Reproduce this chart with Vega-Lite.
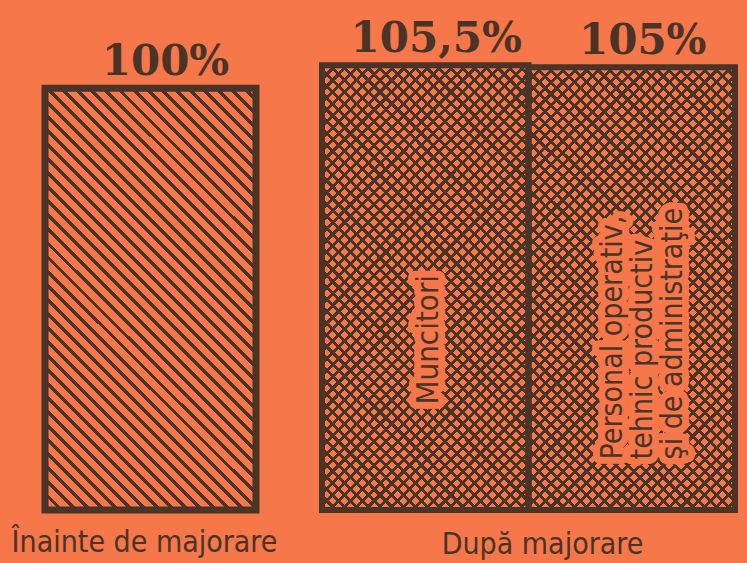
{
"$schema":"https://vega.github.io/schema/vega-lite/v6.json",
"background":"#f5774a",
"padding":{"left":11,"top":4,"right":12,"bottom":12},
"config":{"view":{"stroke":null}},
"spacing":66,
"bounds":"flush",
"data":{"values":[
{"group":"Înainte de majorare","category":"Total","name":"","value":100,"label":"100%"},
{"group":"După majorare","category":"Muncitori","name":"Muncitori","value":105.5,"label":"105,5%"},
{"group":"După majorare","category":"Personal","name":"Personal operativ,\ntehnic productiv\nşi de administraţie","value":105,"label":"105%"}
]},
"hconcat":[
{
"width":211,"height":506,
"transform":[{"filter":{"field":"group","equal":"Înainte de majorare"}}],
"title":{"text":"Înainte de majorare","orient":"bottom","anchor":"middle","font":"Liberation Sans Narrow, DejaVu Sans Condensed, sans-serif","fontSize":30,"fontWeight":"normal","color":"#4a3427","offset":14,"dx":-6},
"encoding":{
"x":{"field":"category","type":"nominal","axis":null,"scale":{"paddingInner":0,"paddingOuter":0}},
"y":{"field":"value","type":"quantitative","axis":null,"scale":{"domain":[0,120],"nice":false}}
},
"layer":[
{"mark":{"type":"bar","stroke":"#4a3427","strokeWidth":7,"fill":{"gradient":"linear","x1":0,"y1":1,"x2":0.6,"y2":-0.2,"stops":[
{"offset":0,"color":"#4a3427"},{"offset":0.0078,"color":"#4a3427"},{"offset":0.0078,"color":"#f5774a"},{"offset":0.0222,"color":"#f5774a"},
{"offset":0.0222,"color":"#4a3427"},{"offset":0.0300,"color":"#4a3427"},{"offset":0.0300,"color":"#f5774a"},{"offset":0.0444,"color":"#f5774a"},
{"offset":0.0444,"color":"#4a3427"},{"offset":0.0522,"color":"#4a3427"},{"offset":0.0522,"color":"#f5774a"},{"offset":0.0667,"color":"#f5774a"},
{"offset":0.0667,"color":"#4a3427"},{"offset":0.0745,"color":"#4a3427"},{"offset":0.0745,"color":"#f5774a"},{"offset":0.0889,"color":"#f5774a"},
{"offset":0.0889,"color":"#4a3427"},{"offset":0.0967,"color":"#4a3427"},{"offset":0.0967,"color":"#f5774a"},{"offset":0.1111,"color":"#f5774a"},
{"offset":0.1111,"color":"#4a3427"},{"offset":0.1189,"color":"#4a3427"},{"offset":0.1189,"color":"#f5774a"},{"offset":0.1333,"color":"#f5774a"},
{"offset":0.1333,"color":"#4a3427"},{"offset":0.1411,"color":"#4a3427"},{"offset":0.1411,"color":"#f5774a"},{"offset":0.1556,"color":"#f5774a"},
{"offset":0.1556,"color":"#4a3427"},{"offset":0.1634,"color":"#4a3427"},{"offset":0.1634,"color":"#f5774a"},{"offset":0.1778,"color":"#f5774a"},
{"offset":0.1778,"color":"#4a3427"},{"offset":0.1856,"color":"#4a3427"},{"offset":0.1856,"color":"#f5774a"},{"offset":0.2,"color":"#f5774a"},
{"offset":0.2,"color":"#4a3427"},{"offset":0.2078,"color":"#4a3427"},{"offset":0.2078,"color":"#f5774a"},{"offset":0.2222,"color":"#f5774a"},
{"offset":0.2222,"color":"#4a3427"},{"offset":0.2300,"color":"#4a3427"},{"offset":0.2300,"color":"#f5774a"},{"offset":0.2444,"color":"#f5774a"},
{"offset":0.2444,"color":"#4a3427"},{"offset":0.2522,"color":"#4a3427"},{"offset":0.2522,"color":"#f5774a"},{"offset":0.2667,"color":"#f5774a"},
{"offset":0.2667,"color":"#4a3427"},{"offset":0.2745,"color":"#4a3427"},{"offset":0.2745,"color":"#f5774a"},{"offset":0.2889,"color":"#f5774a"},
{"offset":0.2889,"color":"#4a3427"},{"offset":0.2967,"color":"#4a3427"},{"offset":0.2967,"color":"#f5774a"},{"offset":0.3111,"color":"#f5774a"},
{"offset":0.3111,"color":"#4a3427"},{"offset":0.3189,"color":"#4a3427"},{"offset":0.3189,"color":"#f5774a"},{"offset":0.3333,"color":"#f5774a"},
{"offset":0.3333,"color":"#4a3427"},{"offset":0.3411,"color":"#4a3427"},{"offset":0.3411,"color":"#f5774a"},{"offset":0.3556,"color":"#f5774a"},
{"offset":0.3556,"color":"#4a3427"},{"offset":0.3634,"color":"#4a3427"},{"offset":0.3634,"color":"#f5774a"},{"offset":0.3778,"color":"#f5774a"},
{"offset":0.3778,"color":"#4a3427"},{"offset":0.3856,"color":"#4a3427"},{"offset":0.3856,"color":"#f5774a"},{"offset":0.4,"color":"#f5774a"},
{"offset":0.4,"color":"#4a3427"},{"offset":0.4078,"color":"#4a3427"},{"offset":0.4078,"color":"#f5774a"},{"offset":0.4222,"color":"#f5774a"},
{"offset":0.4222,"color":"#4a3427"},{"offset":0.4300,"color":"#4a3427"},{"offset":0.4300,"color":"#f5774a"},{"offset":0.4444,"color":"#f5774a"},
{"offset":0.4444,"color":"#4a3427"},{"offset":0.4522,"color":"#4a3427"},{"offset":0.4522,"color":"#f5774a"},{"offset":0.4667,"color":"#f5774a"},
{"offset":0.4667,"color":"#4a3427"},{"offset":0.4745,"color":"#4a3427"},{"offset":0.4745,"color":"#f5774a"},{"offset":0.4889,"color":"#f5774a"},
{"offset":0.4889,"color":"#4a3427"},{"offset":0.4967,"color":"#4a3427"},{"offset":0.4967,"color":"#f5774a"},{"offset":0.5111,"color":"#f5774a"},
{"offset":0.5111,"color":"#4a3427"},{"offset":0.5189,"color":"#4a3427"},{"offset":0.5189,"color":"#f5774a"},{"offset":0.5333,"color":"#f5774a"},
{"offset":0.5333,"color":"#4a3427"},{"offset":0.5411,"color":"#4a3427"},{"offset":0.5411,"color":"#f5774a"},{"offset":0.5556,"color":"#f5774a"},
{"offset":0.5556,"color":"#4a3427"},{"offset":0.5634,"color":"#4a3427"},{"offset":0.5634,"color":"#f5774a"},{"offset":0.5778,"color":"#f5774a"},
{"offset":0.5778,"color":"#4a3427"},{"offset":0.5856,"color":"#4a3427"},{"offset":0.5856,"color":"#f5774a"},{"offset":0.6,"color":"#f5774a"},
{"offset":0.6,"color":"#4a3427"},{"offset":0.6078,"color":"#4a3427"},{"offset":0.6078,"color":"#f5774a"},{"offset":0.6222,"color":"#f5774a"},
{"offset":0.6222,"color":"#4a3427"},{"offset":0.6300,"color":"#4a3427"},{"offset":0.6300,"color":"#f5774a"},{"offset":0.6444,"color":"#f5774a"},
{"offset":0.6444,"color":"#4a3427"},{"offset":0.6522,"color":"#4a3427"},{"offset":0.6522,"color":"#f5774a"},{"offset":0.6667,"color":"#f5774a"},
{"offset":0.6667,"color":"#4a3427"},{"offset":0.6745,"color":"#4a3427"},{"offset":0.6745,"color":"#f5774a"},{"offset":0.6889,"color":"#f5774a"},
{"offset":0.6889,"color":"#4a3427"},{"offset":0.6967,"color":"#4a3427"},{"offset":0.6967,"color":"#f5774a"},{"offset":0.7111,"color":"#f5774a"},
{"offset":0.7111,"color":"#4a3427"},{"offset":0.7189,"color":"#4a3427"},{"offset":0.7189,"color":"#f5774a"},{"offset":0.7333,"color":"#f5774a"},
{"offset":0.7333,"color":"#4a3427"},{"offset":0.7411,"color":"#4a3427"},{"offset":0.7411,"color":"#f5774a"},{"offset":0.7556,"color":"#f5774a"},
{"offset":0.7556,"color":"#4a3427"},{"offset":0.7634,"color":"#4a3427"},{"offset":0.7634,"color":"#f5774a"},{"offset":0.7778,"color":"#f5774a"},
{"offset":0.7778,"color":"#4a3427"},{"offset":0.7856,"color":"#4a3427"},{"offset":0.7856,"color":"#f5774a"},{"offset":0.8,"color":"#f5774a"},
{"offset":0.8,"color":"#4a3427"},{"offset":0.8078,"color":"#4a3427"},{"offset":0.8078,"color":"#f5774a"},{"offset":0.8222,"color":"#f5774a"},
{"offset":0.8222,"color":"#4a3427"},{"offset":0.8300,"color":"#4a3427"},{"offset":0.8300,"color":"#f5774a"},{"offset":0.8444,"color":"#f5774a"},
{"offset":0.8444,"color":"#4a3427"},{"offset":0.8522,"color":"#4a3427"},{"offset":0.8522,"color":"#f5774a"},{"offset":0.8667,"color":"#f5774a"},
{"offset":0.8667,"color":"#4a3427"},{"offset":0.8745,"color":"#4a3427"},{"offset":0.8745,"color":"#f5774a"},{"offset":0.8889,"color":"#f5774a"},
{"offset":0.8889,"color":"#4a3427"},{"offset":0.8967,"color":"#4a3427"},{"offset":0.8967,"color":"#f5774a"},{"offset":0.9111,"color":"#f5774a"},
{"offset":0.9111,"color":"#4a3427"},{"offset":0.9189,"color":"#4a3427"},{"offset":0.9189,"color":"#f5774a"},{"offset":0.9333,"color":"#f5774a"},
{"offset":0.9333,"color":"#4a3427"},{"offset":0.9411,"color":"#4a3427"},{"offset":0.9411,"color":"#f5774a"},{"offset":0.9556,"color":"#f5774a"},
{"offset":0.9556,"color":"#4a3427"},{"offset":0.9634,"color":"#4a3427"},{"offset":0.9634,"color":"#f5774a"},{"offset":0.9778,"color":"#f5774a"},
{"offset":0.9778,"color":"#4a3427"},{"offset":0.9856,"color":"#4a3427"},{"offset":0.9856,"color":"#f5774a"},{"offset":1,"color":"#f5774a"}
]}}},
{"mark":{"type":"text","font":"DejaVu Serif","fontWeight":"bold","fontSize":42,"color":"#4a3427","baseline":"alphabetic","dx":15,"dy":-13},"encoding":{"text":{"field":"label"}}}
]
},
{
"width":413,"height":506,
"transform":[{"filter":{"field":"group","equal":"După majorare"}}],
"title":{"text":"După majorare","orient":"bottom","anchor":"middle","font":"Liberation Sans Narrow, DejaVu Sans Condensed, sans-serif","fontSize":30,"fontWeight":"normal","color":"#4a3427","offset":17,"dx":14},
"encoding":{
"x":{"field":"category","type":"nominal","sort":null,"axis":null,"scale":{"paddingInner":0,"paddingOuter":0}},
"y":{"field":"value","type":"quantitative","axis":null,"scale":{"domain":[0,120],"nice":false}}
},
"layer":[
{"mark":{"type":"bar","strokeWidth":0,"fill":{"gradient":"linear","x1":0,"y1":1,"x2":0.5605,"y2":-0.2045,"stops":[
{"offset":0,"color":"#4a3427"},{"offset":0.0064,"color":"#4a3427"},{"offset":0.0064,"color":"#f5774a"},{"offset":0.0182,"color":"#f5774a"},
{"offset":0.0182,"color":"#4a3427"},{"offset":0.0246,"color":"#4a3427"},{"offset":0.0246,"color":"#f5774a"},{"offset":0.0364,"color":"#f5774a"},
{"offset":0.0364,"color":"#4a3427"},{"offset":0.0428,"color":"#4a3427"},{"offset":0.0428,"color":"#f5774a"},{"offset":0.0545,"color":"#f5774a"},
{"offset":0.0545,"color":"#4a3427"},{"offset":0.0609,"color":"#4a3427"},{"offset":0.0609,"color":"#f5774a"},{"offset":0.0727,"color":"#f5774a"},
{"offset":0.0727,"color":"#4a3427"},{"offset":0.0791,"color":"#4a3427"},{"offset":0.0791,"color":"#f5774a"},{"offset":0.0909,"color":"#f5774a"},
{"offset":0.0909,"color":"#4a3427"},{"offset":0.0973,"color":"#4a3427"},{"offset":0.0973,"color":"#f5774a"},{"offset":0.1091,"color":"#f5774a"},
{"offset":0.1091,"color":"#4a3427"},{"offset":0.1155,"color":"#4a3427"},{"offset":0.1155,"color":"#f5774a"},{"offset":0.1273,"color":"#f5774a"},
{"offset":0.1273,"color":"#4a3427"},{"offset":0.1337,"color":"#4a3427"},{"offset":0.1337,"color":"#f5774a"},{"offset":0.1455,"color":"#f5774a"},
{"offset":0.1455,"color":"#4a3427"},{"offset":0.1519,"color":"#4a3427"},{"offset":0.1519,"color":"#f5774a"},{"offset":0.1636,"color":"#f5774a"},
{"offset":0.1636,"color":"#4a3427"},{"offset":0.1700,"color":"#4a3427"},{"offset":0.1700,"color":"#f5774a"},{"offset":0.1818,"color":"#f5774a"},
{"offset":0.1818,"color":"#4a3427"},{"offset":0.1882,"color":"#4a3427"},{"offset":0.1882,"color":"#f5774a"},{"offset":0.2,"color":"#f5774a"},
{"offset":0.2,"color":"#4a3427"},{"offset":0.2064,"color":"#4a3427"},{"offset":0.2064,"color":"#f5774a"},{"offset":0.2182,"color":"#f5774a"},
{"offset":0.2182,"color":"#4a3427"},{"offset":0.2246,"color":"#4a3427"},{"offset":0.2246,"color":"#f5774a"},{"offset":0.2364,"color":"#f5774a"},
{"offset":0.2364,"color":"#4a3427"},{"offset":0.2428,"color":"#4a3427"},{"offset":0.2428,"color":"#f5774a"},{"offset":0.2545,"color":"#f5774a"},
{"offset":0.2545,"color":"#4a3427"},{"offset":0.2609,"color":"#4a3427"},{"offset":0.2609,"color":"#f5774a"},{"offset":0.2727,"color":"#f5774a"},
{"offset":0.2727,"color":"#4a3427"},{"offset":0.2791,"color":"#4a3427"},{"offset":0.2791,"color":"#f5774a"},{"offset":0.2909,"color":"#f5774a"},
{"offset":0.2909,"color":"#4a3427"},{"offset":0.2973,"color":"#4a3427"},{"offset":0.2973,"color":"#f5774a"},{"offset":0.3091,"color":"#f5774a"},
{"offset":0.3091,"color":"#4a3427"},{"offset":0.3155,"color":"#4a3427"},{"offset":0.3155,"color":"#f5774a"},{"offset":0.3273,"color":"#f5774a"},
{"offset":0.3273,"color":"#4a3427"},{"offset":0.3337,"color":"#4a3427"},{"offset":0.3337,"color":"#f5774a"},{"offset":0.3455,"color":"#f5774a"},
{"offset":0.3455,"color":"#4a3427"},{"offset":0.3519,"color":"#4a3427"},{"offset":0.3519,"color":"#f5774a"},{"offset":0.3636,"color":"#f5774a"},
{"offset":0.3636,"color":"#4a3427"},{"offset":0.3700,"color":"#4a3427"},{"offset":0.3700,"color":"#f5774a"},{"offset":0.3818,"color":"#f5774a"},
{"offset":0.3818,"color":"#4a3427"},{"offset":0.3882,"color":"#4a3427"},{"offset":0.3882,"color":"#f5774a"},{"offset":0.4,"color":"#f5774a"},
{"offset":0.4,"color":"#4a3427"},{"offset":0.4064,"color":"#4a3427"},{"offset":0.4064,"color":"#f5774a"},{"offset":0.4182,"color":"#f5774a"},
{"offset":0.4182,"color":"#4a3427"},{"offset":0.4246,"color":"#4a3427"},{"offset":0.4246,"color":"#f5774a"},{"offset":0.4364,"color":"#f5774a"},
{"offset":0.4364,"color":"#4a3427"},{"offset":0.4428,"color":"#4a3427"},{"offset":0.4428,"color":"#f5774a"},{"offset":0.4545,"color":"#f5774a"},
{"offset":0.4545,"color":"#4a3427"},{"offset":0.4609,"color":"#4a3427"},{"offset":0.4609,"color":"#f5774a"},{"offset":0.4727,"color":"#f5774a"},
{"offset":0.4727,"color":"#4a3427"},{"offset":0.4791,"color":"#4a3427"},{"offset":0.4791,"color":"#f5774a"},{"offset":0.4909,"color":"#f5774a"},
{"offset":0.4909,"color":"#4a3427"},{"offset":0.4973,"color":"#4a3427"},{"offset":0.4973,"color":"#f5774a"},{"offset":0.5091,"color":"#f5774a"},
{"offset":0.5091,"color":"#4a3427"},{"offset":0.5155,"color":"#4a3427"},{"offset":0.5155,"color":"#f5774a"},{"offset":0.5273,"color":"#f5774a"},
{"offset":0.5273,"color":"#4a3427"},{"offset":0.5337,"color":"#4a3427"},{"offset":0.5337,"color":"#f5774a"},{"offset":0.5455,"color":"#f5774a"},
{"offset":0.5455,"color":"#4a3427"},{"offset":0.5519,"color":"#4a3427"},{"offset":0.5519,"color":"#f5774a"},{"offset":0.5636,"color":"#f5774a"},
{"offset":0.5636,"color":"#4a3427"},{"offset":0.5700,"color":"#4a3427"},{"offset":0.5700,"color":"#f5774a"},{"offset":0.5818,"color":"#f5774a"},
{"offset":0.5818,"color":"#4a3427"},{"offset":0.5882,"color":"#4a3427"},{"offset":0.5882,"color":"#f5774a"},{"offset":0.6,"color":"#f5774a"},
{"offset":0.6,"color":"#4a3427"},{"offset":0.6064,"color":"#4a3427"},{"offset":0.6064,"color":"#f5774a"},{"offset":0.6182,"color":"#f5774a"},
{"offset":0.6182,"color":"#4a3427"},{"offset":0.6246,"color":"#4a3427"},{"offset":0.6246,"color":"#f5774a"},{"offset":0.6364,"color":"#f5774a"},
{"offset":0.6364,"color":"#4a3427"},{"offset":0.6428,"color":"#4a3427"},{"offset":0.6428,"color":"#f5774a"},{"offset":0.6545,"color":"#f5774a"},
{"offset":0.6545,"color":"#4a3427"},{"offset":0.6609,"color":"#4a3427"},{"offset":0.6609,"color":"#f5774a"},{"offset":0.6727,"color":"#f5774a"},
{"offset":0.6727,"color":"#4a3427"},{"offset":0.6791,"color":"#4a3427"},{"offset":0.6791,"color":"#f5774a"},{"offset":0.6909,"color":"#f5774a"},
{"offset":0.6909,"color":"#4a3427"},{"offset":0.6973,"color":"#4a3427"},{"offset":0.6973,"color":"#f5774a"},{"offset":0.7091,"color":"#f5774a"},
{"offset":0.7091,"color":"#4a3427"},{"offset":0.7155,"color":"#4a3427"},{"offset":0.7155,"color":"#f5774a"},{"offset":0.7273,"color":"#f5774a"},
{"offset":0.7273,"color":"#4a3427"},{"offset":0.7337,"color":"#4a3427"},{"offset":0.7337,"color":"#f5774a"},{"offset":0.7455,"color":"#f5774a"},
{"offset":0.7455,"color":"#4a3427"},{"offset":0.7519,"color":"#4a3427"},{"offset":0.7519,"color":"#f5774a"},{"offset":0.7636,"color":"#f5774a"},
{"offset":0.7636,"color":"#4a3427"},{"offset":0.7700,"color":"#4a3427"},{"offset":0.7700,"color":"#f5774a"},{"offset":0.7818,"color":"#f5774a"},
{"offset":0.7818,"color":"#4a3427"},{"offset":0.7882,"color":"#4a3427"},{"offset":0.7882,"color":"#f5774a"},{"offset":0.8,"color":"#f5774a"},
{"offset":0.8,"color":"#4a3427"},{"offset":0.8064,"color":"#4a3427"},{"offset":0.8064,"color":"#f5774a"},{"offset":0.8182,"color":"#f5774a"},
{"offset":0.8182,"color":"#4a3427"},{"offset":0.8246,"color":"#4a3427"},{"offset":0.8246,"color":"#f5774a"},{"offset":0.8364,"color":"#f5774a"},
{"offset":0.8364,"color":"#4a3427"},{"offset":0.8428,"color":"#4a3427"},{"offset":0.8428,"color":"#f5774a"},{"offset":0.8545,"color":"#f5774a"},
{"offset":0.8545,"color":"#4a3427"},{"offset":0.8609,"color":"#4a3427"},{"offset":0.8609,"color":"#f5774a"},{"offset":0.8727,"color":"#f5774a"},
{"offset":0.8727,"color":"#4a3427"},{"offset":0.8791,"color":"#4a3427"},{"offset":0.8791,"color":"#f5774a"},{"offset":0.8909,"color":"#f5774a"},
{"offset":0.8909,"color":"#4a3427"},{"offset":0.8973,"color":"#4a3427"},{"offset":0.8973,"color":"#f5774a"},{"offset":0.9091,"color":"#f5774a"},
{"offset":0.9091,"color":"#4a3427"},{"offset":0.9155,"color":"#4a3427"},{"offset":0.9155,"color":"#f5774a"},{"offset":0.9273,"color":"#f5774a"},
{"offset":0.9273,"color":"#4a3427"},{"offset":0.9337,"color":"#4a3427"},{"offset":0.9337,"color":"#f5774a"},{"offset":0.9455,"color":"#f5774a"},
{"offset":0.9455,"color":"#4a3427"},{"offset":0.9519,"color":"#4a3427"},{"offset":0.9519,"color":"#f5774a"},{"offset":0.9636,"color":"#f5774a"},
{"offset":0.9636,"color":"#4a3427"},{"offset":0.9700,"color":"#4a3427"},{"offset":0.9700,"color":"#f5774a"},{"offset":0.9818,"color":"#f5774a"},
{"offset":0.9818,"color":"#4a3427"},{"offset":0.9882,"color":"#4a3427"},{"offset":0.9882,"color":"#f5774a"},{"offset":1,"color":"#f5774a"}
]}}},
{"mark":{"type":"bar","stroke":"#4a3427","strokeWidth":6,"fill":{"gradient":"linear","x1":0,"y1":0,"x2":0.5605,"y2":1.2045,"stops":[
{"offset":0,"color":"#4a3427"},{"offset":0.0064,"color":"#4a3427"},{"offset":0.0064,"color":"rgba(74,52,39,0)"},{"offset":0.0182,"color":"rgba(74,52,39,0)"},
{"offset":0.0182,"color":"#4a3427"},{"offset":0.0246,"color":"#4a3427"},{"offset":0.0246,"color":"rgba(74,52,39,0)"},{"offset":0.0364,"color":"rgba(74,52,39,0)"},
{"offset":0.0364,"color":"#4a3427"},{"offset":0.0428,"color":"#4a3427"},{"offset":0.0428,"color":"rgba(74,52,39,0)"},{"offset":0.0545,"color":"rgba(74,52,39,0)"},
{"offset":0.0545,"color":"#4a3427"},{"offset":0.0609,"color":"#4a3427"},{"offset":0.0609,"color":"rgba(74,52,39,0)"},{"offset":0.0727,"color":"rgba(74,52,39,0)"},
{"offset":0.0727,"color":"#4a3427"},{"offset":0.0791,"color":"#4a3427"},{"offset":0.0791,"color":"rgba(74,52,39,0)"},{"offset":0.0909,"color":"rgba(74,52,39,0)"},
{"offset":0.0909,"color":"#4a3427"},{"offset":0.0973,"color":"#4a3427"},{"offset":0.0973,"color":"rgba(74,52,39,0)"},{"offset":0.1091,"color":"rgba(74,52,39,0)"},
{"offset":0.1091,"color":"#4a3427"},{"offset":0.1155,"color":"#4a3427"},{"offset":0.1155,"color":"rgba(74,52,39,0)"},{"offset":0.1273,"color":"rgba(74,52,39,0)"},
{"offset":0.1273,"color":"#4a3427"},{"offset":0.1337,"color":"#4a3427"},{"offset":0.1337,"color":"rgba(74,52,39,0)"},{"offset":0.1455,"color":"rgba(74,52,39,0)"},
{"offset":0.1455,"color":"#4a3427"},{"offset":0.1519,"color":"#4a3427"},{"offset":0.1519,"color":"rgba(74,52,39,0)"},{"offset":0.1636,"color":"rgba(74,52,39,0)"},
{"offset":0.1636,"color":"#4a3427"},{"offset":0.1700,"color":"#4a3427"},{"offset":0.1700,"color":"rgba(74,52,39,0)"},{"offset":0.1818,"color":"rgba(74,52,39,0)"},
{"offset":0.1818,"color":"#4a3427"},{"offset":0.1882,"color":"#4a3427"},{"offset":0.1882,"color":"rgba(74,52,39,0)"},{"offset":0.2,"color":"rgba(74,52,39,0)"},
{"offset":0.2,"color":"#4a3427"},{"offset":0.2064,"color":"#4a3427"},{"offset":0.2064,"color":"rgba(74,52,39,0)"},{"offset":0.2182,"color":"rgba(74,52,39,0)"},
{"offset":0.2182,"color":"#4a3427"},{"offset":0.2246,"color":"#4a3427"},{"offset":0.2246,"color":"rgba(74,52,39,0)"},{"offset":0.2364,"color":"rgba(74,52,39,0)"},
{"offset":0.2364,"color":"#4a3427"},{"offset":0.2428,"color":"#4a3427"},{"offset":0.2428,"color":"rgba(74,52,39,0)"},{"offset":0.2545,"color":"rgba(74,52,39,0)"},
{"offset":0.2545,"color":"#4a3427"},{"offset":0.2609,"color":"#4a3427"},{"offset":0.2609,"color":"rgba(74,52,39,0)"},{"offset":0.2727,"color":"rgba(74,52,39,0)"},
{"offset":0.2727,"color":"#4a3427"},{"offset":0.2791,"color":"#4a3427"},{"offset":0.2791,"color":"rgba(74,52,39,0)"},{"offset":0.2909,"color":"rgba(74,52,39,0)"},
{"offset":0.2909,"color":"#4a3427"},{"offset":0.2973,"color":"#4a3427"},{"offset":0.2973,"color":"rgba(74,52,39,0)"},{"offset":0.3091,"color":"rgba(74,52,39,0)"},
{"offset":0.3091,"color":"#4a3427"},{"offset":0.3155,"color":"#4a3427"},{"offset":0.3155,"color":"rgba(74,52,39,0)"},{"offset":0.3273,"color":"rgba(74,52,39,0)"},
{"offset":0.3273,"color":"#4a3427"},{"offset":0.3337,"color":"#4a3427"},{"offset":0.3337,"color":"rgba(74,52,39,0)"},{"offset":0.3455,"color":"rgba(74,52,39,0)"},
{"offset":0.3455,"color":"#4a3427"},{"offset":0.3519,"color":"#4a3427"},{"offset":0.3519,"color":"rgba(74,52,39,0)"},{"offset":0.3636,"color":"rgba(74,52,39,0)"},
{"offset":0.3636,"color":"#4a3427"},{"offset":0.3700,"color":"#4a3427"},{"offset":0.3700,"color":"rgba(74,52,39,0)"},{"offset":0.3818,"color":"rgba(74,52,39,0)"},
{"offset":0.3818,"color":"#4a3427"},{"offset":0.3882,"color":"#4a3427"},{"offset":0.3882,"color":"rgba(74,52,39,0)"},{"offset":0.4,"color":"rgba(74,52,39,0)"},
{"offset":0.4,"color":"#4a3427"},{"offset":0.4064,"color":"#4a3427"},{"offset":0.4064,"color":"rgba(74,52,39,0)"},{"offset":0.4182,"color":"rgba(74,52,39,0)"},
{"offset":0.4182,"color":"#4a3427"},{"offset":0.4246,"color":"#4a3427"},{"offset":0.4246,"color":"rgba(74,52,39,0)"},{"offset":0.4364,"color":"rgba(74,52,39,0)"},
{"offset":0.4364,"color":"#4a3427"},{"offset":0.4428,"color":"#4a3427"},{"offset":0.4428,"color":"rgba(74,52,39,0)"},{"offset":0.4545,"color":"rgba(74,52,39,0)"},
{"offset":0.4545,"color":"#4a3427"},{"offset":0.4609,"color":"#4a3427"},{"offset":0.4609,"color":"rgba(74,52,39,0)"},{"offset":0.4727,"color":"rgba(74,52,39,0)"},
{"offset":0.4727,"color":"#4a3427"},{"offset":0.4791,"color":"#4a3427"},{"offset":0.4791,"color":"rgba(74,52,39,0)"},{"offset":0.4909,"color":"rgba(74,52,39,0)"},
{"offset":0.4909,"color":"#4a3427"},{"offset":0.4973,"color":"#4a3427"},{"offset":0.4973,"color":"rgba(74,52,39,0)"},{"offset":0.5091,"color":"rgba(74,52,39,0)"},
{"offset":0.5091,"color":"#4a3427"},{"offset":0.5155,"color":"#4a3427"},{"offset":0.5155,"color":"rgba(74,52,39,0)"},{"offset":0.5273,"color":"rgba(74,52,39,0)"},
{"offset":0.5273,"color":"#4a3427"},{"offset":0.5337,"color":"#4a3427"},{"offset":0.5337,"color":"rgba(74,52,39,0)"},{"offset":0.5455,"color":"rgba(74,52,39,0)"},
{"offset":0.5455,"color":"#4a3427"},{"offset":0.5519,"color":"#4a3427"},{"offset":0.5519,"color":"rgba(74,52,39,0)"},{"offset":0.5636,"color":"rgba(74,52,39,0)"},
{"offset":0.5636,"color":"#4a3427"},{"offset":0.5700,"color":"#4a3427"},{"offset":0.5700,"color":"rgba(74,52,39,0)"},{"offset":0.5818,"color":"rgba(74,52,39,0)"},
{"offset":0.5818,"color":"#4a3427"},{"offset":0.5882,"color":"#4a3427"},{"offset":0.5882,"color":"rgba(74,52,39,0)"},{"offset":0.6,"color":"rgba(74,52,39,0)"},
{"offset":0.6,"color":"#4a3427"},{"offset":0.6064,"color":"#4a3427"},{"offset":0.6064,"color":"rgba(74,52,39,0)"},{"offset":0.6182,"color":"rgba(74,52,39,0)"},
{"offset":0.6182,"color":"#4a3427"},{"offset":0.6246,"color":"#4a3427"},{"offset":0.6246,"color":"rgba(74,52,39,0)"},{"offset":0.6364,"color":"rgba(74,52,39,0)"},
{"offset":0.6364,"color":"#4a3427"},{"offset":0.6428,"color":"#4a3427"},{"offset":0.6428,"color":"rgba(74,52,39,0)"},{"offset":0.6545,"color":"rgba(74,52,39,0)"},
{"offset":0.6545,"color":"#4a3427"},{"offset":0.6609,"color":"#4a3427"},{"offset":0.6609,"color":"rgba(74,52,39,0)"},{"offset":0.6727,"color":"rgba(74,52,39,0)"},
{"offset":0.6727,"color":"#4a3427"},{"offset":0.6791,"color":"#4a3427"},{"offset":0.6791,"color":"rgba(74,52,39,0)"},{"offset":0.6909,"color":"rgba(74,52,39,0)"},
{"offset":0.6909,"color":"#4a3427"},{"offset":0.6973,"color":"#4a3427"},{"offset":0.6973,"color":"rgba(74,52,39,0)"},{"offset":0.7091,"color":"rgba(74,52,39,0)"},
{"offset":0.7091,"color":"#4a3427"},{"offset":0.7155,"color":"#4a3427"},{"offset":0.7155,"color":"rgba(74,52,39,0)"},{"offset":0.7273,"color":"rgba(74,52,39,0)"},
{"offset":0.7273,"color":"#4a3427"},{"offset":0.7337,"color":"#4a3427"},{"offset":0.7337,"color":"rgba(74,52,39,0)"},{"offset":0.7455,"color":"rgba(74,52,39,0)"},
{"offset":0.7455,"color":"#4a3427"},{"offset":0.7519,"color":"#4a3427"},{"offset":0.7519,"color":"rgba(74,52,39,0)"},{"offset":0.7636,"color":"rgba(74,52,39,0)"},
{"offset":0.7636,"color":"#4a3427"},{"offset":0.7700,"color":"#4a3427"},{"offset":0.7700,"color":"rgba(74,52,39,0)"},{"offset":0.7818,"color":"rgba(74,52,39,0)"},
{"offset":0.7818,"color":"#4a3427"},{"offset":0.7882,"color":"#4a3427"},{"offset":0.7882,"color":"rgba(74,52,39,0)"},{"offset":0.8,"color":"rgba(74,52,39,0)"},
{"offset":0.8,"color":"#4a3427"},{"offset":0.8064,"color":"#4a3427"},{"offset":0.8064,"color":"rgba(74,52,39,0)"},{"offset":0.8182,"color":"rgba(74,52,39,0)"},
{"offset":0.8182,"color":"#4a3427"},{"offset":0.8246,"color":"#4a3427"},{"offset":0.8246,"color":"rgba(74,52,39,0)"},{"offset":0.8364,"color":"rgba(74,52,39,0)"},
{"offset":0.8364,"color":"#4a3427"},{"offset":0.8428,"color":"#4a3427"},{"offset":0.8428,"color":"rgba(74,52,39,0)"},{"offset":0.8545,"color":"rgba(74,52,39,0)"},
{"offset":0.8545,"color":"#4a3427"},{"offset":0.8609,"color":"#4a3427"},{"offset":0.8609,"color":"rgba(74,52,39,0)"},{"offset":0.8727,"color":"rgba(74,52,39,0)"},
{"offset":0.8727,"color":"#4a3427"},{"offset":0.8791,"color":"#4a3427"},{"offset":0.8791,"color":"rgba(74,52,39,0)"},{"offset":0.8909,"color":"rgba(74,52,39,0)"},
{"offset":0.8909,"color":"#4a3427"},{"offset":0.8973,"color":"#4a3427"},{"offset":0.8973,"color":"rgba(74,52,39,0)"},{"offset":0.9091,"color":"rgba(74,52,39,0)"},
{"offset":0.9091,"color":"#4a3427"},{"offset":0.9155,"color":"#4a3427"},{"offset":0.9155,"color":"rgba(74,52,39,0)"},{"offset":0.9273,"color":"rgba(74,52,39,0)"},
{"offset":0.9273,"color":"#4a3427"},{"offset":0.9337,"color":"#4a3427"},{"offset":0.9337,"color":"rgba(74,52,39,0)"},{"offset":0.9455,"color":"rgba(74,52,39,0)"},
{"offset":0.9455,"color":"#4a3427"},{"offset":0.9519,"color":"#4a3427"},{"offset":0.9519,"color":"rgba(74,52,39,0)"},{"offset":0.9636,"color":"rgba(74,52,39,0)"},
{"offset":0.9636,"color":"#4a3427"},{"offset":0.9700,"color":"#4a3427"},{"offset":0.9700,"color":"rgba(74,52,39,0)"},{"offset":0.9818,"color":"rgba(74,52,39,0)"},
{"offset":0.9818,"color":"#4a3427"},{"offset":0.9882,"color":"#4a3427"},{"offset":0.9882,"color":"rgba(74,52,39,0)"},{"offset":1,"color":"rgba(74,52,39,0)"}
]}}},
{"mark":{"type":"text","font":"DejaVu Serif","fontWeight":"bold","fontSize":42,"color":"#4a3427","baseline":"alphabetic","dx":11,"dy":-13},"encoding":{"text":{"field":"label"}}},
{"transform":[{"filter":{"field":"category","equal":"Muncitori"}}],"mark":{"type":"text","angle":270,"align":"left","baseline":"middle","dy":4,"font":"Liberation Sans Narrow, DejaVu Sans Condensed, sans-serif","fontSize":31,"fill":"#f5774a","stroke":"#f5774a","strokeWidth":14,"strokeJoin":"round"},"encoding":{"y":{"datum":25,"type":"quantitative"},"text":{"field":"name"}}},
{"transform":[{"filter":{"field":"category","equal":"Muncitori"}}],"mark":{"type":"text","angle":270,"align":"left","baseline":"middle","dy":4,"font":"Liberation Sans Narrow, DejaVu Sans Condensed, sans-serif","fontSize":31,"fill":"#4a3427"},"encoding":{"y":{"datum":25,"type":"quantitative"},"text":{"field":"name"}}},
{"transform":[{"filter":{"field":"category","equal":"Personal"}}],"mark":{"type":"text","angle":270,"align":"left","baseline":"middle","dy":-19,"lineBreak":"\n","lineHeight":30,"font":"Liberation Sans Narrow, DejaVu Sans Condensed, sans-serif","fontSize":30,"fill":"#f5774a","stroke":"#f5774a","strokeWidth":14,"strokeJoin":"round"},"encoding":{"y":{"datum":12,"type":"quantitative"},"text":{"field":"name"}}},
{"transform":[{"filter":{"field":"category","equal":"Personal"}}],"mark":{"type":"text","angle":270,"align":"left","baseline":"middle","dy":-19,"lineBreak":"\n","lineHeight":30,"font":"Liberation Sans Narrow, DejaVu Sans Condensed, sans-serif","fontSize":30,"fill":"#4a3427"},"encoding":{"y":{"datum":12,"type":"quantitative"},"text":{"field":"name"}}}
]
}
]
}
